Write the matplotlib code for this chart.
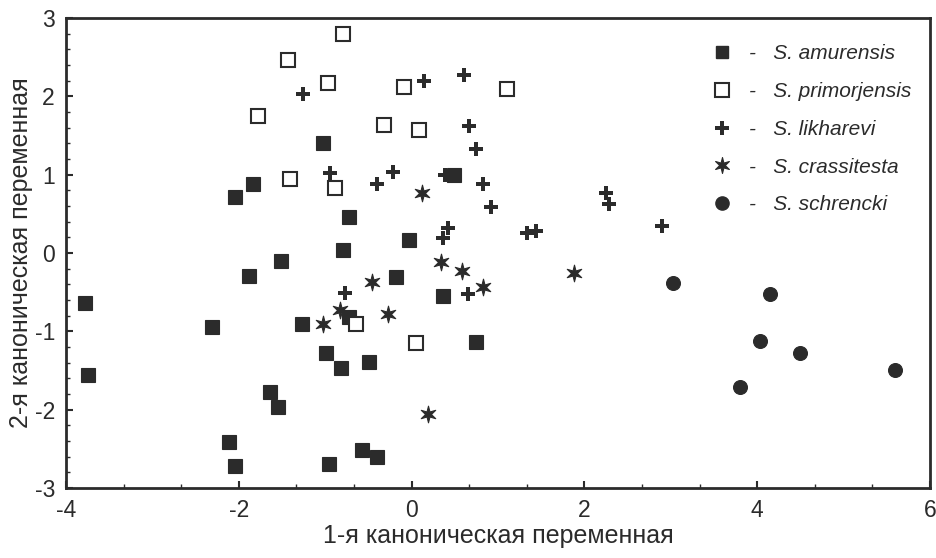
import matplotlib
matplotlib.use("Agg")
import matplotlib.pyplot as plt
import numpy as np
from matplotlib.ticker import MultipleLocator
from matplotlib.lines import Line2D
from matplotlib.path import Path

plt.rcParams['font.family'] = ['Liberation Sans', 'DejaVu Sans']

amur_x = [-1.03, -1.83, -2.04, -0.72, -0.79, -1.51, -0.03, 0.49, -0.18, 0.36, -0.72, -1.27, 0.74,
          -0.99, -0.82, -0.49, -0.57, -0.40, -0.96, -1.88, -3.78, -2.31, -3.75, -1.64, -1.55, -2.11, -2.04]
amur_y = [1.41, 0.885, 0.71, 0.455, 0.04, -0.10, 0.17, 0.99, -0.31, -0.55, -0.82, -0.90, -1.13,
          -1.28, -1.47, -1.39, -2.51, -2.60, -2.69, -0.29, -0.64, -0.94, -1.56, -1.78, -1.97, -2.41, -2.72]

prim_x = [-0.79, -1.43, -0.97, -1.78, -1.41, -0.89, -0.09, 1.10, -0.32, 0.09, -0.64, 0.05]
prim_y = [2.80, 2.46, 2.17, 1.75, 0.945, 0.83, 2.12, 2.10, 1.64, 1.57, -0.91, -1.15]

likh_x = [-1.26, -0.95, 0.14, 0.61, 0.67, 0.75, -0.40, -0.22, 0.39, 0.83, 0.92, 2.25, 2.29,
          1.34, 1.44, 0.42, 0.36, 0.65, -0.77, 2.90]
likh_y = [2.03, 1.02, 2.19, 2.27, 1.62, 1.33, 0.88, 1.04, 1.00, 0.88, 0.59, 0.77, 0.63,
          0.25, 0.28, 0.32, 0.19, -0.52, -0.51, 0.34]

cras_x = [0.12, 0.34, 0.58, 0.83, 1.88, -0.46, -0.83, -1.03, -0.27, 0.19]
cras_y = [0.76, -0.12, -0.23, -0.43, -0.26, -0.37, -0.73, -0.91, -0.78, -2.06]

schr_x = [3.02, 4.15, 4.03, 4.50, 5.60, 3.80]
schr_y = [-0.38, -0.52, -1.12, -1.28, -1.49, -1.71]

labels = ["S. amurensis", "S. primorjensis", "S. likharevi", "S. crassitesta", "S. schrencki"]
xticks = [-4, -2, 0, 2, 4, 6]
yticks = [-3, -2, -1, 0, 1, 2, 3]

# spiky six-pointed star marker shape
_ang = np.pi / 2 + np.arange(12) * np.pi / 6
_rad = np.where(np.arange(12) % 2 == 0, 1.0, 0.35)
_verts = np.column_stack([_rad * np.cos(_ang), _rad * np.sin(_ang)])
star = Path(np.vstack([_verts, _verts[:1]]), closed=True)

dark = "#2b2b2b"
fig = plt.figure(figsize=(9.36, 5.58), dpi=100)
ax = fig.add_axes([0.0705, 0.1254, 0.9231, 0.8423])

ax.plot(amur_x, amur_y, ls='none', marker='s', ms=9.5, mfc=dark, mec=dark, mew=0.8, zorder=3)
ax.plot(prim_x, prim_y, ls='none', marker='s', ms=10, mfc='white', mec=dark, mew=1.5, zorder=3)
ax.plot(likh_x, likh_y, ls='none', marker='P', ms=9.5, mfc=dark, mec=dark, mew=0, zorder=4)
ax.plot(cras_x, cras_y, ls='none', marker=star, ms=12, mfc=dark, mec=dark, mew=0.8, zorder=4)
ax.plot(schr_x, schr_y, ls='none', marker='o', ms=10, mfc=dark, mec=dark, mew=0.8, zorder=3)

ax.set_xlim(-4, 6)
ax.set_ylim(-3, 3)
ax.set_xticks(xticks)
ax.set_yticks(yticks)
ax.set_xticklabels([str(v) for v in xticks])
ax.set_yticklabels([str(v) for v in yticks])
ax.xaxis.set_minor_locator(MultipleLocator(2 / 3))
ax.yaxis.set_minor_locator(MultipleLocator(0.2))
ax.tick_params(which='both', direction='in', color=dark, labelsize=16.5, labelcolor=dark)
ax.tick_params(which='major', length=5, width=1.5)
ax.tick_params(which='minor', length=3, width=1)
ax.tick_params(axis='x', pad=8)
ax.tick_params(axis='y', pad=8)
for s in ax.spines.values():
    s.set_linewidth(2)
    s.set_color(dark)

ax.set_xlabel("1-я каноническая переменная", fontsize=18, color=dark, labelpad=1)
ax.set_ylabel("2-я каноническая переменная", fontsize=18, color=dark, labelpad=1)

handles = [
    Line2D([], [], ls='none', marker='s', ms=9, mfc=dark, mec=dark),
    Line2D([], [], ls='none', marker='s', ms=9.5, mfc='white', mec=dark, mew=1.5),
    Line2D([], [], ls='none', marker='P', ms=9.5, mfc=dark, mec=dark, mew=0),
    Line2D([], [], ls='none', marker=star, ms=11.5, mfc=dark, mec=dark, mew=0.8),
    Line2D([], [], ls='none', marker='o', ms=9.5, mfc=dark, mec=dark),
]
leg = ax.legend(handles, ["-   " + l for l in labels], loc='upper right', frameon=False,
                prop={'size': 15, 'style': 'italic'}, handlelength=1.0, handletextpad=0.8,
                labelspacing=0.9, bbox_to_anchor=(0.995, 0.975), borderaxespad=0.3)
for t in leg.get_texts():
    t.set_color(dark)

fig.savefig("out.png", dpi=100)
